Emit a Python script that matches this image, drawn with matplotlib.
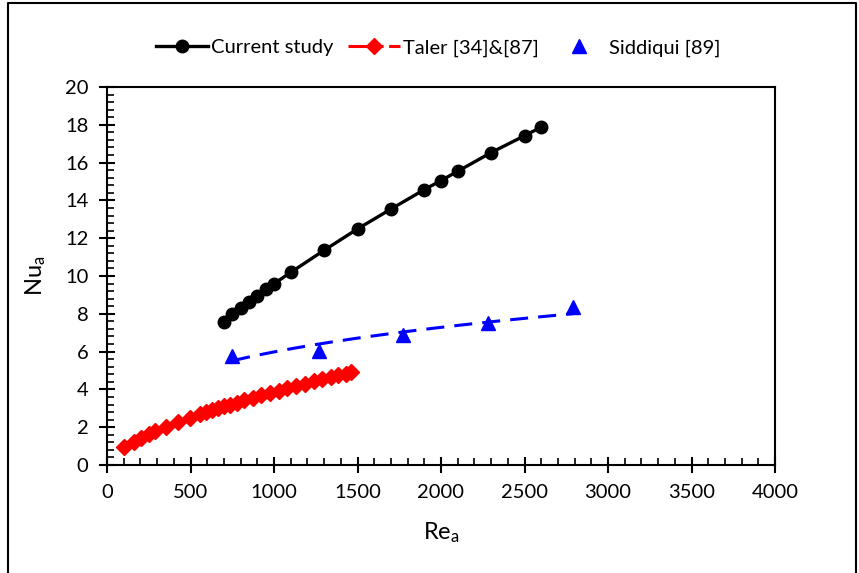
import numpy as np
import matplotlib
matplotlib.use("Agg")
import matplotlib.pyplot as plt
from matplotlib.ticker import MultipleLocator
from matplotlib.lines import Line2D

# Present results
re_current = [700, 750, 800, 850, 900, 950, 1000, 1100, 1300, 1500, 1700,
              1900, 2000, 2100, 2300, 2500, 2600]
nu_current = [7.58, 7.99, 8.32, 8.61, 8.96, 9.31, 9.59, 10.19, 11.36, 12.49,
              13.54, 14.57, 15.05, 15.54, 16.53, 17.42, 17.88]

# Taler correlation
re_taler = [104, 160, 204, 250, 290, 356, 424, 496, 556, 590, 626, 664, 700,
            736, 776, 820, 876, 924, 976, 1030, 1080, 1130, 1184, 1240, 1290,
            1340, 1384, 1430, 1464]
nu_taler = [0.94, 1.23, 1.43, 1.63, 1.78, 2.03, 2.26, 2.49, 2.68, 2.78, 2.89,
            2.99, 3.10, 3.19, 3.30, 3.42, 3.56, 3.68, 3.81, 3.94, 4.06, 4.18,
            4.30, 4.42, 4.54, 4.64, 4.74, 4.84, 4.91]

# Siddiqui measurements
re_siddiqui = [750, 1270, 1770, 2280, 2790]
nu_siddiqui = [5.75, 6.05, 6.90, 7.50, 8.35]

x_ticks = [0, 500, 1000, 1500, 2000, 2500, 3000, 3500, 4000]
y_ticks = [0, 2, 4, 6, 8, 10, 12, 14, 16, 18, 20]

labels = ["Current study", "Taler [34]&[87]", "Siddiqui [89]"]

plt.rcParams["font.family"] = ["Lato", "DejaVu Sans"]
plt.rcParams["mathtext.fontset"] = "custom"
plt.rcParams["mathtext.rm"] = "Lato"
plt.rcParams["mathtext.it"] = "Lato:italic"

W, H = 859, 573
fig = plt.figure(figsize=(W / 100, H / 100), dpi=100)
ax = fig.add_axes([107 / W, 108 / H, 668 / W, 378 / H])

# Power-law trendline through the Siddiqui points
b, ln_a = np.polyfit(np.log(re_siddiqui), np.log(nu_siddiqui), 1)
re_fit = np.linspace(min(re_siddiqui), max(re_siddiqui), 200)
nu_fit = np.exp(ln_a) * re_fit ** b

taler_dash = (11.5, 1.8)

ax.plot(re_fit, nu_fit, color="#0000FF", lw=2.2, dashes=(5.9, 3.3), zorder=2)
ax.plot(re_siddiqui, nu_siddiqui, ls="none", marker="^", ms=9.5,
        color="#0000FF", zorder=3)
ax.plot(re_taler, nu_taler, color="#FF0000", lw=2.2, dashes=taler_dash,
        marker="D", ms=8.5, zorder=3)
ax.plot(re_current, nu_current, color="black", lw=2.4, marker="o", ms=9,
        zorder=4)

ax.set_xlim(x_ticks[0], x_ticks[-1])
ax.set_ylim(y_ticks[0], y_ticks[-1])
ax.set_xticks(x_ticks)
ax.set_yticks(y_ticks)
ax.xaxis.set_minor_locator(MultipleLocator(100))
ax.yaxis.set_minor_locator(MultipleLocator(0.4))
ax.tick_params(which="major", direction="inout", length=11, width=1.5,
               labelsize=14.5, colors="black", pad=8)
ax.tick_params(which="minor", direction="in", length=5, width=1.2)
ax.tick_params(top=False, right=False, which="both")
for sp in ax.spines.values():
    sp.set_linewidth(1.5)
    sp.set_color("black")

ax.set_xlabel(r"Re$_{\mathrm{a}}$", fontsize=17, labelpad=14)
ax.set_ylabel(r"Nu$_{\mathrm{a}}$", fontsize=17, labelpad=12)

handles = [
    Line2D([], [], color="black", lw=2.4, marker="o", ms=9),
    Line2D([], [], color="#FF0000", lw=2.2, dashes=taler_dash, marker="D", ms=8.5),
    Line2D([], [], color="#0000FF", ls="none", marker="^", ms=9.5),
]
fig.legend(handles, labels, loc="center", bbox_to_anchor=(438 / W, 1 - 48 / H),
           ncol=3, frameon=False, handlelength=2.6, handletextpad=0.15,
           columnspacing=0.7, fontsize=14.5)

# Outer frame
fig.add_artist(Line2D([8 / W, 8 / W, 856 / W, 856 / W],
                      [0, 1 - 3 / H, 1 - 3 / H, 0],
                      transform=fig.transFigure, color="black", lw=1.5))

fig.savefig("out.png", dpi=100)
